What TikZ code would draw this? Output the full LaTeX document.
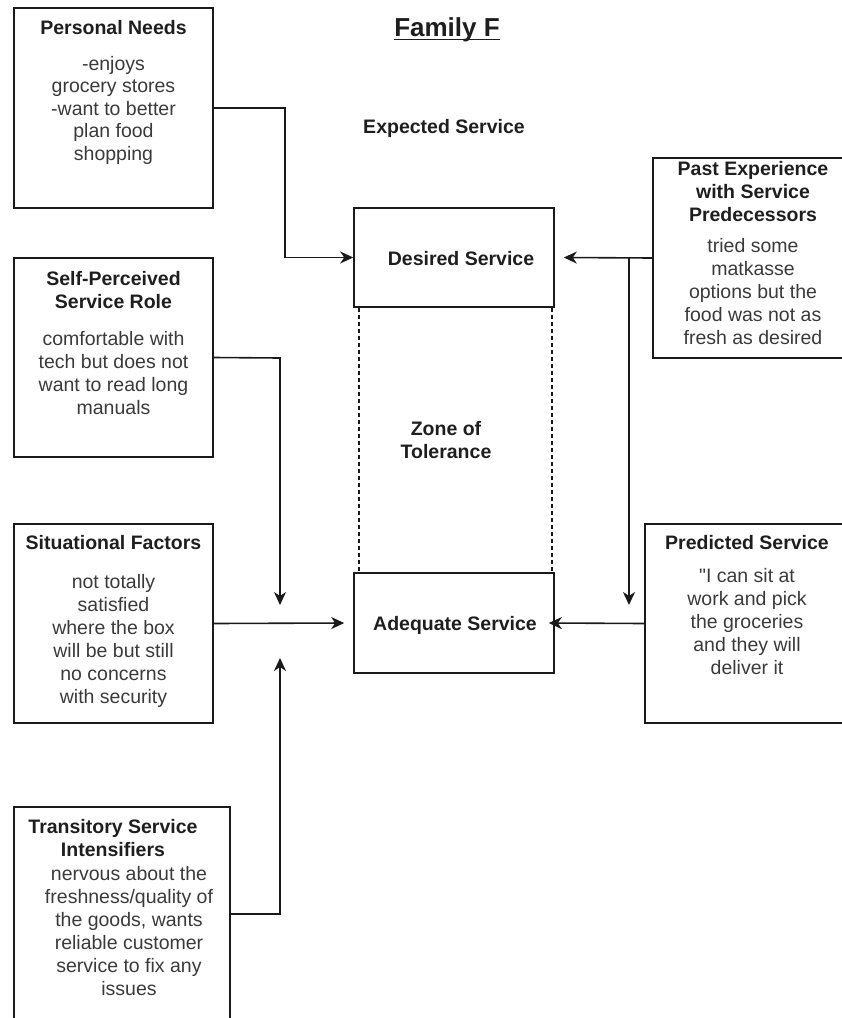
\documentclass[tikz,border=0pt]{standalone}
\usepackage{fontspec}
\setmainfont{Liberation Sans}
\newfontfamily\plainfont{Liberation Sans}[Ligatures=TeXOff]
\usetikzlibrary{arrows.meta}

\definecolor{linec}{HTML}{1A1A1A}
\definecolor{headc}{HTML}{1E1E1E}
\definecolor{bodyc}{HTML}{3A3A3A}

\tikzset{
  box/.style={draw=linec, line width=1.6pt, rectangle, inner sep=0pt, anchor=center},
  txt/.style={anchor=north, inner sep=0pt, align=center,
              font=\fontsize{19.5}{23}\selectfont, execute at begin node=\strut},
  head/.style={txt, font=\fontsize{19.5}{23}\selectfont\bfseries, text=headc},
  body/.style={txt, text=bodyc},
  conn/.style={draw=linec, line width=1.6pt},
  arr/.style={conn, -{Stealth[length=13pt, width=12pt, inset=4pt]}},
  zone/.style={draw=linec, line width=1.3pt, dash pattern=on 4pt off 3pt}
}

\begin{document}
\begin{tikzpicture}[x=1pt, y=-1pt]
  \useasboundingbox (0,0) rectangle (842,1018);

  % title and labels
  \node[anchor=base, inner sep=0pt, font=\fontsize{26}{30}\selectfont\bfseries, text=headc]
    (title) at (447,36) {Family F};
  \draw[line width=1.5pt, headc] ([yshift=-3.5pt]title.base west) -- ([yshift=-3.5pt]title.base east);
  \node[head] (expected) at (444,117) {Expected Service};

  % service level boxes
  \node[box, minimum width=200pt, minimum height=99pt] (ds) at (454,257.5) {};
  \node[head] (dst) at (461,249) {Desired Service};
  \node[box, minimum width=200pt, minimum height=100pt] (as) at (454,623) {};
  \node[head] (ast) at (455,614) {Adequate Service};

  % zone of tolerance
  \coordinate (zl1) at (359,308);
  \coordinate (zl2) at (359,573);
  \coordinate (zr1) at (552,308);
  \coordinate (zr2) at (552,573);
  \draw[zone] (zl1) -- (zl2);
  \draw[zone] (zr1) -- (zr2);
  \node[head] (zt) at (446,421) {Zone of\\Tolerance};

  % left column boxes
  \node[box, minimum width=199pt, minimum height=200pt] (pn) at (113.5,108) {};
  \node[head] (pnh) at (113.5,18) {Personal Needs};
  \node[body, font=\fontsize{19.5}{22.5}\selectfont] (pnb) at (113.5,56)
    {-enjoys\\grocery stores\\-want to better\\plan food\\shopping};

  \node[box, minimum width=199pt, minimum height=199pt] (sp) at (113.5,357.5) {};
  \node[head] (sph) at (113.5,271) {Self-Perceived\\Service Role};
  \node[body] (spb) at (113.5,331)
    {comfortable with\\tech but does not\\want to read long\\manuals};

  \node[box, minimum width=199pt, minimum height=199pt] (sf) at (113.5,623.5) {};
  \node[head] (sfh) at (113.5,533) {Situational Factors};
  \node[body] (sfb) at (113.5,574)
    {not totally\\satisfied\\where the box\\will be but still\\no concerns\\with security};

  \node[box, minimum width=216pt, minimum height=214pt] (ts) at (122,914) {};
  \node[head] (tsh) at (113,819) {Transitory Service\\Intensifiers};
  \node[body] (tsb) at (129,866)
    {nervous about the\\freshness/quality of\\the goods, wants\\reliable customer\\service to fix any\\issues};

  % right column boxes
  \node[box, minimum width=200pt, minimum height=200pt] (pe) at (753,258) {};
  \node[head] (peh) at (753,161) {Past Experience\\with Service\\Predecessors};
  \node[body] (peb) at (753,238)
    {tried some\\matkasse\\options but the\\food was not as\\fresh as desired};

  \node[box, minimum width=200pt, minimum height=199pt] (ps) at (745,623.5) {};
  \node[head] (psh) at (747,533) {Predicted Service};
  \node[body] (psb) at (747,568)
    {{\plainfont"}I can sit at\\work and pick\\the groceries\\and they will\\deliver it};

  % connectors
  \coordinate (k1) at (285,108);
  \draw[arr] (pn.east) -- (k1) |- (ds.west);

  \draw[arr] (pe.west) -- ([xshift=9pt]ds.east);
  \coordinate (j1) at (629,258);
  \coordinate (j2) at (629,605);
  \draw[arr] (j1) -- (j2);

  \coordinate (k2) at (280,358);
  \coordinate (k3) at (280,605);
  \draw[arr] (sp.east) -- (k2) -- (k3);

  \draw[arr] (sf.east) -- ([xshift=-9pt]as.west);

  \coordinate (k4) at (280,914);
  \coordinate (k5) at (280,658);
  \draw[arr] (ts.east) -- (k4) -- (k5);

  \draw[arr] (ps.west) -- ([xshift=-6pt]as.east);
\end{tikzpicture}
\end{document}
